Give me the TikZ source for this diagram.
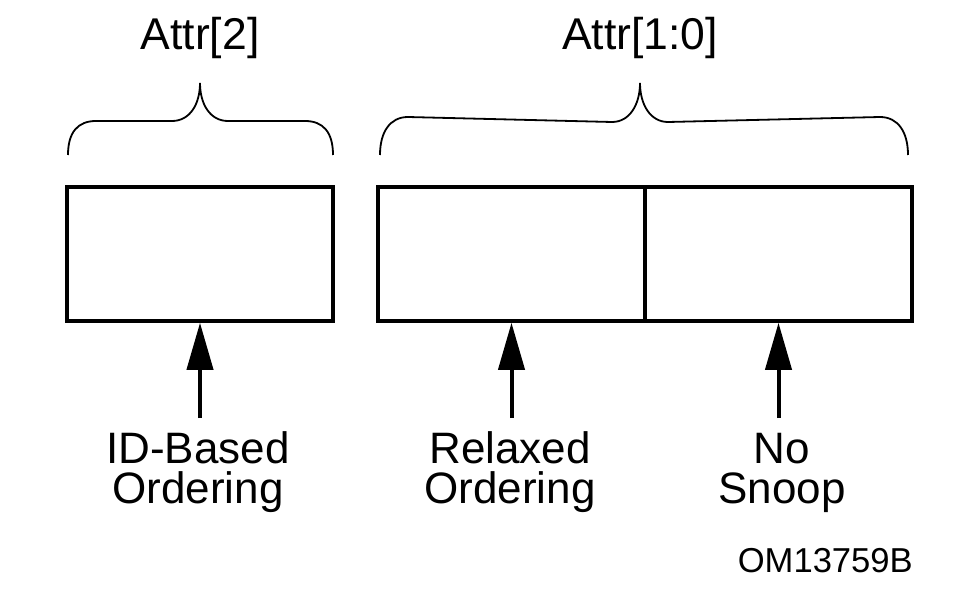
\documentclass[tikz,border=0pt]{standalone}
\usepackage{fontspec}
\setmainfont{Liberation Sans}
\usetikzlibrary{arrows.meta}
\begin{document}
\begin{tikzpicture}[x=1bp,y=-1bp,
  field/.style={draw=black,line width=3.5bp,minimum height=134bp,inner sep=0pt,fill=white},
  lbl/.style={inner sep=0pt,anchor=base,align=center,font=\fontsize{44bp}{39.5bp}\selectfont},
  hlbl/.style={inner sep=0pt,anchor=base,font=\fontsize{44.5bp}{44.5bp}\selectfont},
  idlbl/.style={inner sep=0pt,anchor=base east,font=\fontsize{34.6bp}{34.6bp}\selectfont},
  bracepath/.style={draw=black,line width=1.8bp},
  arr/.style={line width=4bp,-{Triangle[length=47bp,width=26bp]}}]
\useasboundingbox (0,0) rectangle (980,594);
% fields
\node[field,minimum width=266bp] (b2) at (200,254) {};
\node[field,minimum width=267bp] (b1) at (511.5,254) {};
\node[field,minimum width=267bp] (b0) at (778.5,254) {};
% braces
\draw[bracepath] (68,155) .. controls (68,132) and (78,121) .. (96,121)
  -- (172,121) .. controls (190,121) and (200,104) .. (200,83)
  .. controls (200,104) and (210,121) .. (228,121)
  -- (305,121) .. controls (323,121) and (333,132) .. (333,155);
\draw[bracepath] (380,155) .. controls (380,132) and (390,117) .. (408,117)
  -- (612,122) .. controls (630,122) and (640,104) .. (640,83)
  .. controls (640,104) and (650,122) .. (668,122)
  -- (880,117) .. controls (898,117) and (908,132) .. (908,155);
% headings
\node[hlbl] (h2) at (200,49.5) {Attr[2]};
\node[hlbl] (h10) at (640,49.5) {Attr[1:0]};
% labels
\node[lbl] (l2) at (198,503) {ID-Based\\Ordering};
\node[lbl] (l1) at (510,503) {Relaxed\\Ordering};
\node[lbl] (l0) at (782,503) {No\\Snoop};
\node[idlbl] (om) at (913,572) {OM13759B};
% arrows
\coordinate (a2) at (200,418);
\coordinate (a1) at (511.5,418);
\coordinate (a0) at (778.5,418);
\draw[arr] (a2) -- (b2.south);
\draw[arr] (a1) -- (b1.south);
\draw[arr] (a0) -- (b0.south);
\end{tikzpicture}
\end{document}
